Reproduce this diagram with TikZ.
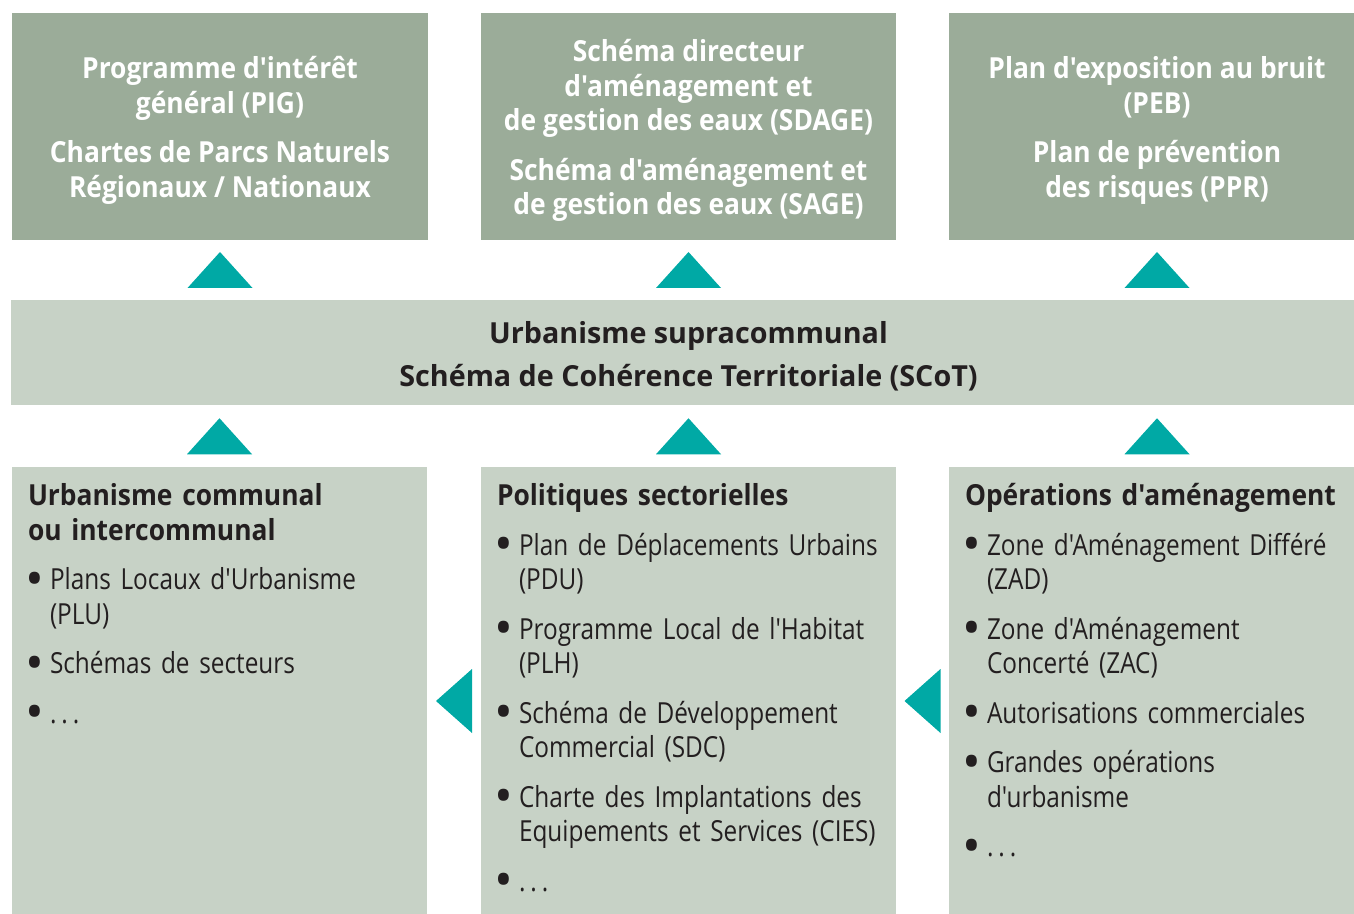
\documentclass[tikz,border=0pt]{standalone}
\usepackage{fontspec}
\newfontfamily\regf[FakeStretch=0.84,WordSpace=0.9]{Open Sans}
\newfontfamily\boldf[FakeStretch=0.91]{Open Sans}
\newfontfamily\bandf[FakeStretch=0.99]{Open Sans}
\newfontfamily\bulf{Open Sans}
\usetikzlibrary{calc}
\definecolor{sagedark}{HTML}{9BAC99}
\definecolor{sagelight}{HTML}{C7D2C6}
\definecolor{tealtri}{HTML}{00A9A5}
\definecolor{inkdark}{HTML}{231F20}
\newcommand\bitem[1]{\par\hangindent=11pt\hangafter=1\noindent\makebox[11pt][l]{\hspace{-1.5pt}\raisebox{-3.3pt}{\bulf\fontsize{25}{24}\selectfont •}}#1}
\newcommand\tridots{.\hspace{2.5pt}.\hspace{2.5pt}.}
\newcommand\uptri[1]{\fill[tealtri] ($#1+(-32.5,18)$) -- ($#1+(0,-18)$) -- ($#1+(32.5,18)$) -- cycle;}
\newcommand\lefttri[1]{\fill[tealtri] ($#1+(18,-32)$) -- ($#1+(-18,0)$) -- ($#1+(18,32)$) -- cycle;}
\tikzset{
  box/.style={inner sep=0pt, outer sep=0pt, anchor=north west},
  darkbox/.style={box, fill=sagedark},
  toptext/.style={text=white, align=center, inner sep=0pt,
    font=\boldf\fontsize{14.5}{17.25}\selectfont\bfseries},
  lightbox/.style={box, fill=sagelight},
  bandtext/.style={text=inkdark, align=center, inner sep=0pt,
    font=\bandf\fontsize{14.5}{21.5}\selectfont\bfseries},
  listtext/.style={inner sep=0pt, outer sep=0pt, anchor=north west, text=inkdark,
    text width=205pt, font=\regf\fontsize{14.5}{17.25}\selectfont},
}
\newcommand\hd[1]{{\boldf\bfseries #1}}
\begin{document}
\begin{tikzpicture}[x=0.5pt,y=-0.5pt]
\useasboundingbox (0,0) rectangle (1354,914);
% top boxes
\node[darkbox, minimum width=208pt, minimum height=113.5pt] (topL) at (12,13) {};
\node[darkbox, minimum width=207.5pt, minimum height=113.5pt] (topM) at (481,13) {};
\node[darkbox, minimum width=208pt, minimum height=113.5pt] (topR) at (949,13) {};
\node[toptext] (topLt) at ($(topL.center)+(0,4)$)
  {Programme d'intérêt\\général (PIG)\\[7.5pt]Chartes de Parcs Naturels\\Régionaux / Nationaux};
\node[toptext] (topMt) at ($(topM.center)+(0,4)$)
  {Schéma directeur\\d'aménagement et\\de gestion des eaux (SDAGE)\\[7.5pt]Schéma d'aménagement et\\de gestion des eaux (SAGE)};
\node[toptext] (topRt) at ($(topR.center)+(0,4)$)
  {Plan d'exposition au bruit\\(PEB)\\[7.5pt]Plan de prévention\\des risques (PPR)};
% band
\node[lightbox, minimum width=677.5pt, minimum height=52.75pt] (band) at (11,300) {};
\node[bandtext] (bandT) at ($(band.center)+(0,4)$) {Urbanisme supracommunal\\Schéma de Cohérence Territoriale (SCoT)};
% bottom boxes
\node[lightbox, minimum width=207.5pt, minimum height=223.5pt] (botL) at (12,467) {};
\node[lightbox, minimum width=207.5pt, minimum height=223.5pt] (botM) at (481,467) {};
\node[lightbox, minimum width=208pt, minimum height=223.5pt] (botR) at (949,467) {};
% list texts
\node[listtext] (txtL) at (28,483.5) {\parskip=7.5pt
  \noindent\hd{Urbanisme communal\newline ou intercommunal}
  \bitem{Plans Locaux d'Urbanisme\newline (PLU)}
  \bitem{Schémas de secteurs}
  \bitem{\tridots}};
\node[listtext] (txtM) at (497,483.5) {\parskip=7.5pt
  \noindent\hd{Politiques sectorielles}
  \bitem{Plan de Déplacements Urbains\newline (PDU)}
  \bitem{Programme Local de l'Habitat\newline (PLH)}
  \bitem{Schéma de Développement\newline Commercial (SDC)}
  \bitem{Charte des Implantations des\newline Equipements et Services (CIES)}
  \bitem{\tridots}};
\node[listtext] (txtR) at (965,483.5) {\parskip=7.5pt
  \noindent\hd{Opérations d'aménagement}
  \bitem{Zone d'Aménagement Différé\newline (ZAD)}
  \bitem{Zone d'Aménagement\newline Concerté (ZAC)}
  \bitem{Autorisations commerciales}
  \bitem{Grandes opérations\newline d'urbanisme}
  \bitem{\tridots}};
% triangles
\uptri{($(topL.south)!.5!(topL.south|-band.north)$)}
\uptri{($(topM.south)!.5!(topM.south|-band.north)$)}
\uptri{($(topR.south)!.5!(topR.south|-band.north)$)}
\uptri{($(botL.north)!.5!(botL.north|-band.south)$)}
\uptri{($(botM.north)!.5!(botM.north|-band.south)$)}
\uptri{($(botR.north)!.5!(botR.north|-band.south)$)}
\lefttri{($(botL.east)!.5!(botM.west)+(0,10.5)$)}
\lefttri{($(botM.east)!.5!(botR.west)+(0,10.5)$)}
\end{tikzpicture}
\end{document}
